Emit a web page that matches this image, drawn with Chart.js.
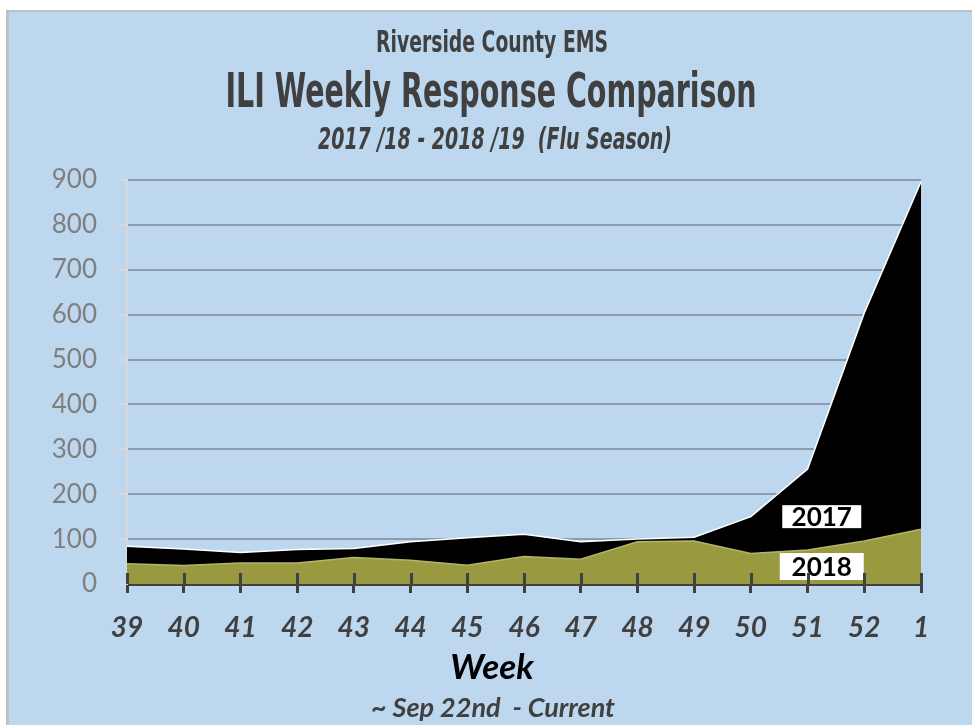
<!DOCTYPE html>
<html>
<head>
<meta charset="utf-8">
<title>ILI Weekly Response Comparison</title>
<script src="https://cdn.jsdelivr.net/npm/chart.js@4.4.1/dist/chart.umd.min.js"></script>
<style>
  html, body { margin: 0; padding: 0; background: #fff; }
  #wrap { width: 972px; height: 725px; }
</style>
</head>
<body>
<div id="wrap"><canvas id="ili" width="972" height="725"></canvas></div>
<script>
// week numbers, flu season starts ~ Sep 22nd
const weeks = ['39', '40', '41', '42', '43', '44', '45', '46', '47', '48', '49', '50', '51', '52', '1'];
const season2017 = [84, 78, 70, 77, 79, 94, 103, 111, 94, 100, 104, 150, 256, 604, 896];
const season2018 = [45, 41, 47, 47, 59, 53, 42, 61, 55, 94, 96, 68, 76, 96, 122];
const yMin = 0;
const yMax = 900;
const yStep = 100;

const titleLines = ['Riverside County EMS', 'ILI Weekly Response Comparison', '2017 /18 - 2018 /19  (Flu Season)'];
const axisTitle = 'Week';
const axisNote = '~ Sep 22nd  - Current';

const DARK = '#404040';
const BLUE = '#bdd7ee';

// light blue panel with grey frame on top/left
const panel = {
  id: 'panel',
  beforeDraw(chart) {
    const c = chart.ctx;
    c.save();
    c.fillStyle = '#ffffff';
    c.fillRect(0, 0, chart.width, chart.height);
    c.fillStyle = '#c0c0c0';
    c.fillRect(6, 10, chart.width - 6, chart.height - 10);
    c.fillStyle = BLUE;
    c.fillRect(9, 12, chart.width - 9, chart.height - 12);
    c.restore();
  }
};

// draw text squeezed to a width (mimics the narrow Agency style face)
function squeezed(c, text, font, cx, base, width) {
  c.font = font;
  const w = c.measureText(text).width;
  c.save();
  c.translate(cx, base);
  c.scale(width / w, 1);
  c.textAlign = 'center';
  c.textBaseline = 'alphabetic';
  c.fillText(text, 0, 0);
  c.restore();
}

const headings = {
  id: 'headings',
  afterDraw(chart) {
    const c = chart.ctx;
    c.save();
    c.fillStyle = DARK;
    squeezed(c, titleLines[0], 'bold 30px "DejaVu Sans Condensed"', 492, 52, 232);
    squeezed(c, titleLines[1], 'bold 48px "DejaVu Sans Condensed"', 491, 107, 531);
    squeezed(c, titleLines[2], 'italic bold 31px "DejaVu Sans Condensed"', 495, 149, 354);

    c.textAlign = 'center';
    c.textBaseline = 'alphabetic';
    c.fillStyle = '#000000';
    c.font = 'italic bold 35px Lato';
    c.fillText(axisTitle, 492, 679);
    c.fillStyle = DARK;
    c.font = 'italic bold 27px Lato';
    c.fillText(axisNote, 493, 717);
    c.restore();
  }
};

// Excel style "cross" tick marks on the category axis
const crossTicks = {
  id: 'crossTicks',
  afterDraw(chart) {
    const xs = chart.scales.x;
    const c = chart.ctx;
    const b = chart.chartArea.bottom;
    c.save();
    c.strokeStyle = DARK;
    c.lineWidth = 3;
    xs.ticks.forEach((t, i) => {
      const x = Math.round(xs.getPixelForTick(i)) + 0.5;
      c.beginPath();
      c.moveTo(x, b - 11);
      c.lineTo(x, b);
      c.stroke();
    });
    c.restore();
  }
};

// white series tags inside the areas
const tags = {
  id: 'tags',
  afterDatasetsDraw(chart, args, opts) {
    const xs = chart.scales.x, ys = chart.scales.y;
    const c = chart.ctx;
    c.save();
    c.font = 'bold 26px Lato';
    c.textAlign = 'center';
    c.textBaseline = 'middle';
    opts.items.forEach(it => {
      const x = xs.getPixelForValue(it.at);
      const y = ys.getPixelForValue(it.value);
      c.fillStyle = '#ffffff';
      c.fillRect(x - it.w / 2, y - it.h / 2, it.w, it.h);
      c.fillStyle = '#000000';
      c.fillText(it.text, x, y + 1);
    });
    c.restore();
  }
};

const ctx = document.getElementById('ili').getContext('2d');
new Chart(ctx, {
  type: 'line',
  data: {
    labels: weeks,
    datasets: [
      {
        label: '2018',
        data: season2018,
        fill: 'origin',
        backgroundColor: '#99993f',
        borderColor: '#b4b46a',
        borderWidth: 1.5,
        pointRadius: 0,
        tension: 0
      },
      {
        label: '2017',
        data: season2017,
        fill: 'origin',
        backgroundColor: '#000000',
        borderColor: '#ffffff',
        borderWidth: 1.5,
        pointRadius: 0,
        tension: 0
      }
    ]
  },
  options: {
    responsive: false,
    animation: false,
    layout: { padding: { left: 0, right: 51, top: 180, bottom: 0 } },
    plugins: {
      legend: { display: false },
      tooltip: { enabled: false },
      tags: {
        items: [
          { text: '2017', at: 12.25, value: 150, w: 79, h: 23 },
          { text: '2018', at: 12.25, value: 39, w: 84, h: 27 }
        ]
      }
    },
    scales: {
      x: {
        z: 1,
        offset: false,
        afterFit(s) { s.height = 141; },
        grid: {
          display: true,
          drawOnChartArea: false,
          drawTicks: true,
          tickLength: 9,
          tickColor: DARK,
          tickWidth: 3,
          color: DARK,
          lineWidth: 3
        },
        border: { display: true, color: DARK, width: 3 },
        ticks: {
          color: DARK,
          padding: 18,
          maxRotation: 0,
          autoSkip: false,
          font: { family: 'Lato', size: 28, style: 'italic', weight: 'bold' }
        }
      },
      y: {
        min: yMin,
        max: yMax,
        afterFit(s) { s.width = 127; },
        grid: {
          color: '#8c9bae',
          lineWidth: 2,
          tickLength: 9,
          tickColor: '#d9d9d9',
          tickWidth: 2
        },
        border: { display: true, color: '#d9d9d9', width: 2 },
        ticks: {
          stepSize: yStep,
          color: '#7f7f7f',
          padding: 21,
          font: { family: 'Lato', size: 26 }
        }
      }
    }
  },
  plugins: [panel, tags, crossTicks, headings]
});
</script>
</body>
</html>
